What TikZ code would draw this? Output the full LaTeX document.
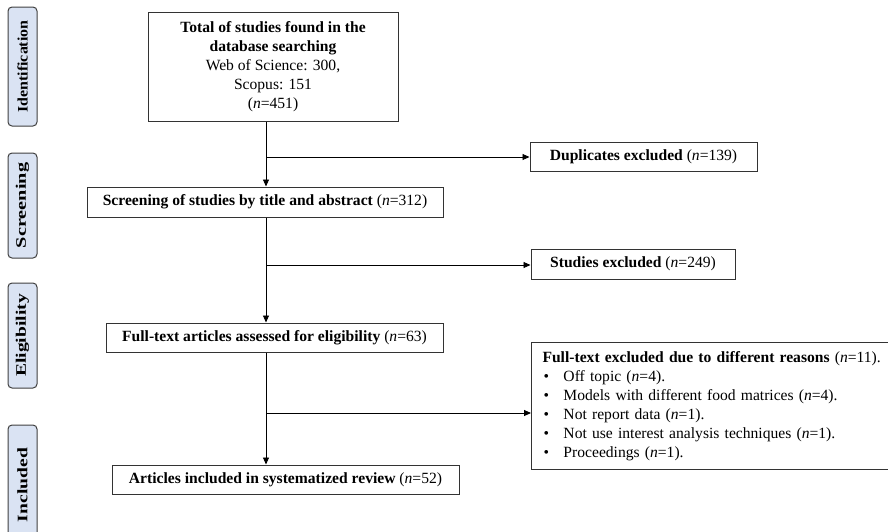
\documentclass[tikz,border=0pt]{standalone}
\usepackage{fontspec}
\setmainfont{Liberation Serif}
\usetikzlibrary{arrows.meta, positioning, calc}
\definecolor{stagefill}{RGB}{218,227,243}
\newcommand{\reason}[1]{\makebox[21pt][l]{\hspace{1pt}\textbullet}#1}
\newcommand{\phasename}[2]{\scalebox{#1}[1]{#2}}

\begin{document}
\begin{tikzpicture}[
  x=1pt, y=-1pt,
  every node/.style={font=\fontsize{15.6}{19}\selectfont},
  box/.style={rectangle, draw=black!80, line width=1pt, inner sep=0pt,
    align=center},
  stage/.style={rectangle, draw=black!75, rounded corners=4pt, line width=1pt,
    fill=stagefill, rotate=90, minimum height=29, inner sep=0pt,
    font=\fontsize{14.5}{16}\selectfont\bfseries},
  flow/.style={draw, line width=0.9pt, -{Triangle[length=7pt,width=6pt]}}
]
\useasboundingbox (0,0) rectangle (888,531);
\clip (0,0) rectangle (888,531);

% phases
\node[stage, minimum width=119] (ident) at (22.5,66.5)
  {\phasename{1.1}{Identification}};
\node[stage, minimum width=105] (screenph) at (22.5,205.5)
  {\phasename{1.4}{Screening}};
\node[stage, minimum width=105] (eligph) at (22.5,335.5)
  {\phasename{1.35}{Eligibility}};
\node[stage, minimum width=120] (inclph) at (22.5,485)
  {\phasename{1.35}{Included}};

% main flow
\node[box, minimum width=250, minimum height=109] (total) at (273,66.5)
  {\textbf{Total of studies found in the}\\ \textbf{database searching}\\
   Web of Science: 300,\\ Scopus: 151\\ (\textit{n}=451)};
\node[box, minimum width=356, minimum height=30] (screen) at (265,202)
  {\textbf{Screening of studies by title and abstract} (\textit{n}=312)};
\node[box, minimum width=337, minimum height=29] (assess) at (274.5,337.5)
  {\textbf{Full-text articles assessed for eligibility} (\textit{n}=63)};
\node[box, minimum width=347, minimum height=29] (incl) at (285.5,479.5)
  {\textbf{Articles included in systematized review} (\textit{n}=52)};

% exclusions
\node[box, minimum width=227, minimum height=29] (dup) at (643.5,156.5)
  {\textbf{Duplicates excluded} (\textit{n}=139)};
\node[box, minimum width=204, minimum height=30] (studx) at (633,264)
  {\textbf{Studies excluded} (\textit{n}=249)};
\node[box, anchor=north west, minimum height=127, text width=360,
  inner xsep=11pt, align=left] (fullx) at (531,342)
  {\textbf{Full-text excluded due to different reasons} (\textit{n}=11).\\
   \reason{Off topic (\textit{n}=4).}\\
   \reason{Models with different food matrices (\textit{n}=4).}\\
   \reason{Not report data (\textit{n}=1).}\\
   \reason{Not use interest analysis techniques (\textit{n}=1).}\\
   \reason{Proceedings (\textit{n}=1).}};

\coordinate (spine) at (266,0);
\coordinate (b1) at (266,157);
\coordinate (b2) at (266,265);
\coordinate (b3) at (266,413);

\draw[flow] (total.south -| spine) -- (screen.north -| spine);
\draw[flow] (screen.south -| spine) -- (assess.north -| spine);
\draw[flow] (assess.south -| spine) -- (incl.north -| spine);
\draw[flow] (b1) -- (b1 -| dup.west);
\draw[flow] (b2) -- (b2 -| studx.west);
\draw[flow] (b3) -- (b3 -| fullx.west);

\end{tikzpicture}
\end{document}
